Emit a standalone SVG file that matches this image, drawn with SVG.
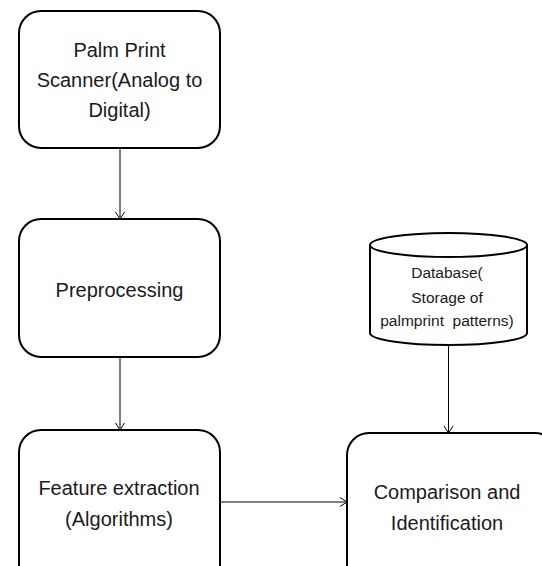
<svg xmlns="http://www.w3.org/2000/svg" width="542" height="566" viewBox="0 0 542 566">
<defs>
<marker id="arr" markerWidth="12" markerHeight="12" refX="10" refY="6" orient="auto" markerUnits="userSpaceOnUse">
<polyline points="3,1.5 10,6 3,10.5" fill="none" stroke="#000" stroke-width="1"/>
</marker>
<style>
.box{fill:#fff;stroke:#000;stroke-width:2}
.t{font-family:"Liberation Sans",Arial,sans-serif;font-size:20px;fill:#1a1a1a;text-anchor:middle}
.s{font-family:"Liberation Sans",Arial,sans-serif;font-size:15.5px;fill:#1a1a1a;text-anchor:middle;white-space:pre}
.c{fill:none;stroke:#000;stroke-width:1}
</style>
</defs>
<rect width="542" height="566" fill="#fff"/>
<g id="connectors">
<line class="c" x1="120" y1="148" x2="120" y2="219" marker-end="url(#arr)"/>
<line class="c" x1="120" y1="357" x2="120" y2="430" marker-end="url(#arr)"/>
<line class="c" x1="220" y1="502" x2="347" y2="502" marker-end="url(#arr)"/>
<line class="c" x1="448.5" y1="345" x2="448.5" y2="433" marker-end="url(#arr)"/>
</g>
<g id="scanner">
<rect class="box" x="19" y="11" width="201" height="137" rx="22"/>
<text class="t" x="119.5" y="57">Palm Print</text>
<text class="t" x="119.5" y="87">Scanner(Analog to</text>
<text class="t" x="119.5" y="117">Digital)</text>
</g>
<g id="preprocessing">
<rect class="box" x="19" y="219" width="201" height="138" rx="22"/>
<text class="t" x="119.5" y="297">Preprocessing</text>
</g>
<g id="feature">
<rect class="box" x="19" y="430" width="201" height="160" rx="22"/>
<text class="t" x="119" y="495">Feature extraction</text>
<text class="t" x="119" y="526">(Algorithms)</text>
</g>
<g id="comparison">
<rect class="box" x="347" y="433" width="210" height="160" rx="22"/>
<text class="t" x="447" y="499">Comparison and</text>
<text class="t" x="447" y="530">Identification</text>
</g>
<g id="database">
<path class="box" d="M370,245 L370,333 A78.5,12 0 0 0 527,333 L527,245"/>
<ellipse class="box" cx="448.5" cy="245" rx="78.5" ry="12"/>
<text class="s" x="447" y="278">Database(</text>
<text class="s" x="447" y="303">Storage of</text>
<text class="s" x="447" y="326">palmprint  patterns)</text>
</g>
</svg>
